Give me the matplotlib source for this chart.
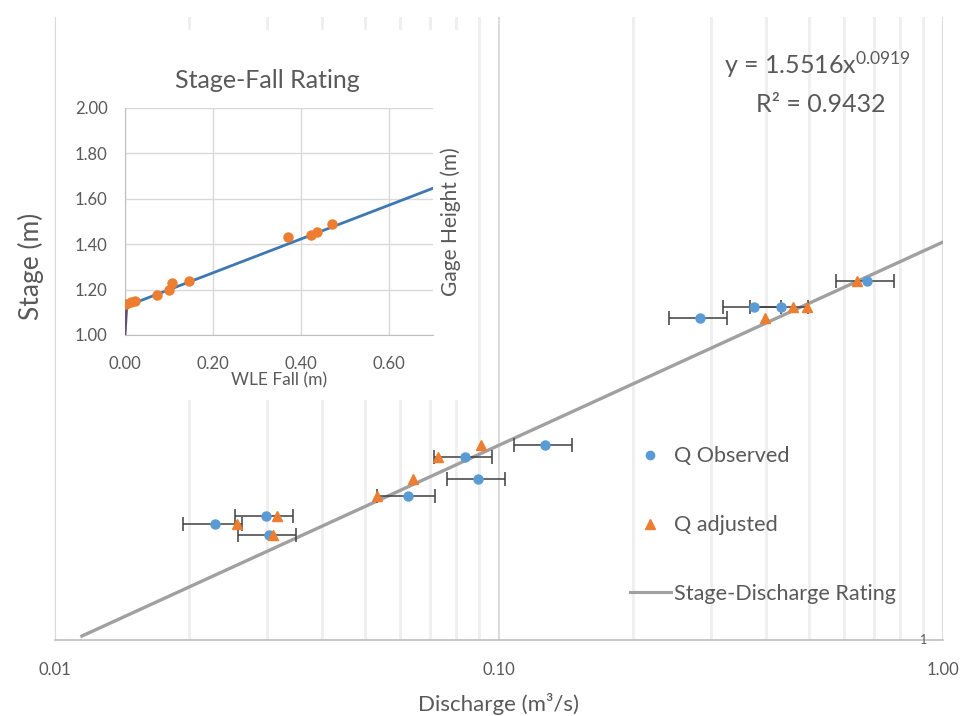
import numpy as np
import matplotlib
matplotlib.use("Agg")
import matplotlib.pyplot as plt
from matplotlib.patches import Rectangle
from matplotlib.lines import Line2D
from matplotlib.ticker import NullFormatter, NullLocator

plt.rcParams['font.family'] = ['Lato', 'DejaVu Sans']
plt.rcParams['mathtext.fontset'] = 'custom'
plt.rcParams['mathtext.rm'] = 'Lato'
plt.rcParams['mathtext.it'] = 'Lato'

# gauged points: stage with observed and adjusted discharge
stage = [1.434, 1.450, 1.450, 1.490, 1.256, 1.240, 1.212, 1.191, 1.157, 1.167, 1.144]
q_obs = [0.284, 0.375, 0.432, 0.674, 0.127, 0.0838, 0.0897, 0.0624, 0.0229, 0.0299, 0.0304]
q_adj = [0.397, 0.460, 0.494, 0.640, 0.0911, 0.0729, 0.0640, 0.0531, 0.0257, 0.0316, 0.0310]
q_uncert = 0.15  # +/- fraction on observed discharge

# power-law rating
rating_a = 1.5516
rating_b = 0.0919
rating_r2 = 0.9432
q_min, q_max = 0.0115, 1.0

# stage-fall inset data
wle_fall = [0.003, 0.014, 0.023, 0.072, 0.100, 0.106, 0.146, 0.370, 0.423, 0.436, 0.470]
gage_ht = [1.137, 1.145, 1.150, 1.176, 1.198, 1.229, 1.238, 1.432, 1.440, 1.455, 1.490]
fall_slope, fall_icpt = 0.745, 1.125
low_fall = [0.0, 0.004]
low_stage = [1.0, 1.128]

grey_txt = '#595959'
blue = '#5B9BD5'
orange = '#ED7D31'

fig = plt.figure(figsize=(9.6, 7.16), dpi=100)
ax = fig.add_axes([55/960, 1 - 640/716, 888/960, 623/716])
ax.set_zorder(0)

# rating curve (straight on log-log)
qq = np.logspace(np.log10(q_min), np.log10(q_max), 50)
ax.plot(qq, rating_a * qq ** rating_b, color='#a0a0a0', lw=2.4, zorder=2)

xerr = np.array(q_obs) * q_uncert
ax.errorbar(q_obs, stage, xerr=xerr, fmt='none', ecolor='#3f3f3f', elinewidth=1.1,
            capsize=5, capthick=1.1, zorder=3)
ax.plot(q_obs, stage, 'o', color=blue, ms=6.5, zorder=4)
ax.plot(q_adj, stage, '^', color=orange, ms=7.5, zorder=4)

ax.set_xscale('log')
ax.set_yscale('log')
ax.set_xlim(0.01, 1.0)
ax.set_ylim(1.0251, 1.9614)
ax.set_xticks([0.01, 0.1, 1.0])
ax.set_xticklabels(['0.01', '0.10', '1.00'])
ax.xaxis.set_minor_formatter(NullFormatter())
ax.tick_params(axis='x', which='both', length=0, labelsize=12, colors=grey_txt, pad=16)
ax.set_yticks([])
ax.yaxis.set_minor_locator(NullLocator())
ax.grid(True, axis='x', which='minor', color='#efefef', lw=2)
ax.grid(True, axis='x', which='major', color='#d4d4d4', lw=1.2)
ax.set_axisbelow(True)
for s in ['top', 'right']:
    ax.spines[s].set_visible(False)
ax.spines['left'].set_color('#d9d9d9')
ax.spines['bottom'].set_color('#bfbfbf')
ax.spines['bottom'].set_linewidth(1.2)

ax.set_xlabel('Discharge (m³/s)', fontsize=16, color=grey_txt)
ax.xaxis.set_label_coords(0.5, -0.085)
ax.set_ylabel('Stage (m)', fontsize=19, color=grey_txt)
ax.yaxis.set_label_coords(-0.012, 0.6)
ax.text(0.978, 0.0, '1', transform=ax.transAxes, ha='center', va='center',
        fontsize=9, color=grey_txt)

ax.text(0.859, 0.923, r'y = %.4fx$^{%.4f}$' % (rating_a, rating_b), transform=ax.transAxes,
        ha='center', va='center', fontsize=18, color=grey_txt)
ax.text(0.862, 0.859, 'R² = %.4f' % rating_r2, transform=ax.transAxes,
        ha='center', va='center', fontsize=18, color=grey_txt)

handles = [
    Line2D([], [], ls='none', marker='o', color=blue, ms=6),
    Line2D([], [], ls='none', marker='^', color=orange, ms=7.5),
    Line2D([], [], color='#a0a0a0', lw=2.2),
]
leg = ax.legend(handles, ['Q Observed', 'Q adjusted', 'Stage-Discharge Rating'],
                loc='upper left', bbox_to_anchor=(0.625, 0.342), frameon=False,
                fontsize=15.6, labelspacing=2.25, handlelength=1.9, handletextpad=0.15)
for t in leg.get_texts():
    t.set_color(grey_txt)

# white panel behind the inset
fig.patches.append(Rectangle((58/960, 1 - 400/716), 412/960, 370/716,
                             transform=fig.transFigure, facecolor='white',
                             edgecolor='none', zorder=1))

axi = fig.add_axes([125/960, 1 - 335/716, 308/960, 227/716])
axi.set_zorder(2)
fx = np.array([0.0, 0.70])
axi.plot(fx, fall_icpt + fall_slope * fx, color='#3e78b2', lw=2, zorder=3)
axi.plot(low_fall, low_stage, color='#5d5270', lw=2, zorder=3)
axi.plot(wle_fall, gage_ht, 'o', color=orange, ms=6.5, zorder=4)
axi.set_xlim(0, 0.70)
axi.set_ylim(1.0, 2.0)
axi.set_xticks([0, 0.2, 0.4, 0.6])
axi.set_xticklabels(['0.00', '0.20', '0.40', '0.60'])
axi.set_yticks([1.0, 1.2, 1.4, 1.6, 1.8, 2.0])
axi.set_yticklabels(['1.00', '1.20', '1.40', '1.60', '1.80', '2.00'])
axi.tick_params(axis='x', length=0, labelsize=12, colors=grey_txt, pad=15)
axi.tick_params(axis='y', length=0, labelsize=12, colors=grey_txt, pad=12.5)
axi.grid(True, color='#d9d9d9', lw=1)
axi.set_axisbelow(True)
for s in ['top', 'right']:
    axi.spines[s].set_visible(False)
axi.spines['left'].set_color('#bfbfbf')
axi.spines['bottom'].set_color('#bfbfbf')
axi.set_xlabel('WLE Fall (m)', fontsize=12.5, color=grey_txt, labelpad=0)
axi.yaxis.set_label_position('right')
axi.set_ylabel('Gage Height (m)', fontsize=15, color=grey_txt, rotation=90, labelpad=5)
axi.text(0.461, 1.123, 'Stage-Fall Rating', transform=axi.transAxes,
         ha='center', va='center', fontsize=18, color=grey_txt)

fig.savefig('out.png', dpi=100)
